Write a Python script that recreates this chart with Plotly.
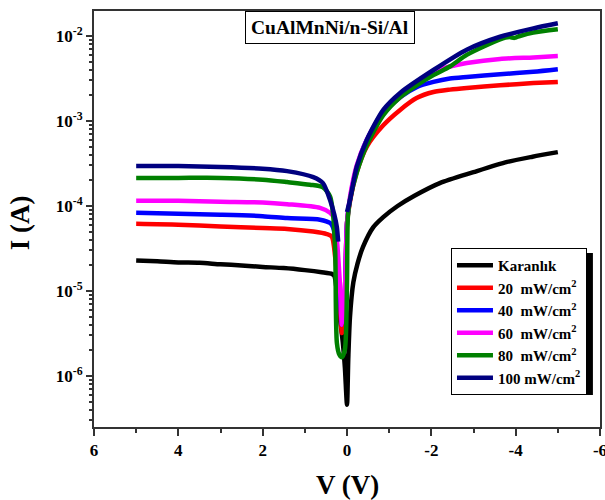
import plotly.graph_objects as go

# ---- data (V in volts, I in amperes) ----
names = ["Karanlık", "20  mW/cm<sup>2</sup>", "40  mW/cm<sup>2</sup>",
         "60  mW/cm<sup>2</sup>", "80  mW/cm<sup>2</sup>", "100 mW/cm<sup>2</sup>"]
colors = ["#000000", "#FF0000", "#0000FF", "#FF00FF", "#008000", "#000080"]

V_dark = [5.0, 4.5, 4.0, 3.5, 3.0, 2.5, 2.0, 1.5, 1.0, 0.6, 0.35, 0.3, 0.2, 0.1, 0.05, 0.0,
          -0.03, -0.07, -0.15, -0.25, -0.38, -0.62, -0.86, -1.2, -1.6, -2.2, -3.0, -3.8, -4.4, -5.0]
I_dark = [2.29e-5, 2.24e-5, 2.17e-5, 2.15e-5, 2.06e-5, 2.0e-5, 1.92e-5, 1.86e-5, 1.76e-5, 1.66e-5,
          1.58e-5, 1.51e-5, 6.3e-6, 2.5e-6, 1.26e-6, 4.6e-7,
          1.6e-6, 4.9e-6, 1.26e-5, 2.1e-5, 3.3e-5, 5.6e-5, 7.4e-5, 1.0e-4, 1.32e-4, 1.86e-4,
          2.5e-4, 3.3e-4, 3.8e-4, 4.3e-4]

V_20 = [5.0, 4.0, 3.0, 2.0, 1.42, 0.8, 0.48, 0.36, 0.28, 0.17, 0.12, 0.05, 0.0,
        -0.07, -0.23, -0.47, -0.86, -1.26, -1.65, -2.05, -2.44, -2.84, -3.63, -4.42, -5.0]
I_20 = [6.17e-5, 6.03e-5, 5.75e-5, 5.5e-5, 5.37e-5, 5.0e-5, 4.68e-5, 4.37e-5, 2.5e-5, 6.5e-6,
        3.2e-6, 1.0e-5, 6.3e-5, 1.12e-4, 2.5e-4, 5.0e-4, 8.9e-4, 1.35e-3, 1.86e-3, 2.19e-3,
        2.34e-3, 2.45e-3, 2.63e-3, 2.79e-3, 2.88e-3]

V_40 = [5.0, 4.0, 3.0, 2.0, 1.42, 0.64, 0.4, 0.33, 0.25, 0.17, 0.12, 0.05, 0.0,
        -0.07, -0.23, -0.47, -0.86, -1.26, -1.65, -2.05, -2.44, -2.84, -3.63, -4.42, -5.0]
I_40 = [8.3e-5, 8.1e-5, 7.9e-5, 7.6e-5, 7.2e-5, 6.9e-5, 6.3e-5, 5.6e-5, 3.2e-5, 9.5e-6,
        4.0e-6, 1.0e-5, 6.3e-5, 1.2e-4, 2.8e-4, 6.0e-4, 1.23e-3, 1.9e-3, 2.5e-3, 2.88e-3,
        3.16e-3, 3.3e-3, 3.55e-3, 3.8e-3, 4.07e-3]

V_60 = [5.0, 4.0, 3.0, 2.0, 1.42, 0.64, 0.4, 0.3, 0.24, 0.17, 0.12, 0.05, 0.0,
        -0.07, -0.23, -0.47, -0.86, -1.26, -1.65, -2.05, -2.44, -2.84, -3.63, -4.42, -5.0]
I_60 = [1.15e-4, 1.15e-4, 1.12e-4, 1.10e-4, 1.05e-4, 9.5e-5, 8.3e-5, 7.1e-5, 4.0e-5, 1.26e-5,
        4.0e-6, 1.0e-5, 6.3e-5, 1.26e-4, 3.0e-4, 6.0e-4, 1.29e-3, 1.9e-3, 2.88e-3, 3.8e-3,
        4.37e-3, 4.8e-3, 5.37e-3, 5.6e-3, 5.8e-3]

V_80 = [5.0, 4.0, 3.0, 2.0, 1.42, 0.88, 0.57, 0.4, 0.33, 0.28, 0.24, 0.18, 0.12, 0.05, 0.0,
        -0.02, -0.07, -0.23, -0.47, -0.86, -1.26, -1.65, -2.05, -2.44, -2.84, -3.63, -3.85,
        -3.97, -4.1, -4.42, -5.0]
I_80 = [2.14e-4, 2.14e-4, 2.14e-4, 2.04e-4, 1.91e-4, 1.78e-4, 1.66e-4, 1.29e-4, 7.9e-5, 3.0e-5,
        2.45e-6, 1.78e-6, 1.66e-6, 2.04e-6, 1.26e-5, 7.4e-5, 1.17e-4, 2.45e-4, 5.2e-4, 1.17e-3,
        1.9e-3, 2.63e-3, 3.47e-3, 4.37e-3, 6.0e-3, 9.1e-3, 9.7e-3, 9.5e-3, 1.0e-2, 1.1e-2, 1.2e-2]

V_100 = [5.0, 4.0, 3.0, 2.0, 1.42, 0.8, 0.57, 0.4, 0.3, 0.24, 0.21, None, 0.0,
         -0.07, -0.23, -0.47, -0.86, -1.26, -2.05, -2.84, -3.63, -4.42, -5.0]
I_100 = [2.95e-4, 2.95e-4, 2.88e-4, 2.75e-4, 2.57e-4, 2.19e-4, 1.86e-4, 1.17e-4, 7.9e-5, 5.6e-5,
         3.8e-5, None, 8.5e-5, 1.17e-4, 2.88e-4, 6.0e-4, 1.35e-3, 2.14e-3, 3.98e-3, 6.9e-3,
         9.8e-3, 1.23e-2, 1.41e-2]

x_ticks = [6, 4, 2, 0, -2, -4, -6]
x_ticktext = ["6", "4", "2", "0", "-2", "-4", "-6"]
y_ticks = [1e-6, 1e-5, 1e-4, 1e-3, 1e-2]
y_ticktext = ["10<sup>-6</sup>", "10<sup>-5</sup>", "10<sup>-4</sup>", "10<sup>-3</sup>", "10<sup>-2</sup>"]

series = [(V_dark, I_dark), (V_20, I_20), (V_40, I_40), (V_60, I_60), (V_80, I_80), (V_100, I_100)]

FONT = "Liberation Serif"

fig = go.Figure()
for i, (vx, iy) in enumerate(series):
    fig.add_trace(go.Scatter(
        x=vx, y=iy, mode="lines", name=names[i], legendrank=i + 1,
        legendgroup="g%d" % i,
        line=dict(color=colors[i], width=4.5, shape="spline", smoothing=0.7),
        connectgaps=False,
    ))

minor_y = [m * 10.0 ** e for e in range(-7, -1) for m in range(2, 10)]

fig.update_layout(
    width=605, height=500,
    margin=dict(l=94, r=5, t=11, b=73),
    paper_bgcolor="white", plot_bgcolor="white",
    font=dict(family=FONT, color="black"),
    showlegend=True,
    legend=dict(
        x=0.7055, y=0.43, xanchor="left", yanchor="top",
        bgcolor="white", bordercolor="black", borderwidth=1,
        font=dict(family=FONT, size=15, weight="bold", color="black"),
        itemwidth=36, traceorder="grouped", tracegroupgap=0,
    ),
    xaxis=dict(
        range=[6, -6], tickvals=x_ticks, ticktext=x_ticktext, automargin=False,
        ticklabeloverflow="allow",
        ticks="outside", ticklen=7, tickwidth=2, tickcolor="#333",
        showline=True, linecolor="#333", linewidth=2, mirror=True,
        showgrid=False, zeroline=False,
        tickfont=dict(family=FONT, size=17, weight="bold"),
        minor=dict(tickvals=[5, 3, 1, -1, -3, -5], ticks="outside", ticklen=4,
                   tickwidth=2, tickcolor="#333", showgrid=False),
    ),
    yaxis=dict(
        type="log", range=[-6.6, -1.706], tickvals=y_ticks, ticktext=y_ticktext,
        automargin=False, ticklabeloverflow="allow",
        ticks="outside", ticklen=6, tickwidth=2, tickcolor="#333",
        showline=True, linecolor="#333", linewidth=2, mirror=True,
        showgrid=False, zeroline=False,
        tickfont=dict(family=FONT, size=17, weight="bold"),
        minor=dict(tickvals=minor_y, ticks="outside", ticklen=3,
                   tickwidth=1.5, tickcolor="#333", showgrid=False),
    ),
    annotations=[
        dict(text="<b>CuAlMnNi/n-Si/Al</b>", xref="paper", yref="paper",
             x=0.466, y=0.96, xanchor="center", yanchor="middle", showarrow=False,
             font=dict(family=FONT, size=19.5, color="black"),
             bordercolor="black", borderwidth=1, borderpad=5, bgcolor="white"),
        dict(text="<b>V (V)</b>", xref="paper", yref="paper",
             x=0.5, y=-0.139, xanchor="center", yanchor="middle", showarrow=False,
             font=dict(family=FONT, size=27, color="black")),
        dict(text="<b>I (A)</b>", xref="paper", yref="paper", textangle=-90,
             x=-0.146, y=0.49, xanchor="center", yanchor="middle", showarrow=False,
             font=dict(family=FONT, size=27, color="black")),
    ],
    shapes=[dict(
        type="rect", xref="paper", yref="paper",
        x0=0.717, x1=0.986, y0=0.077, y1=0.418,
        fillcolor="black", line=dict(width=0), layer="above",
    )],
)

fig.write_html("out.html", config={"displayModeBar": False},
               post_script="document.body.style.margin='0';document.body.style.overflow='hidden';")
